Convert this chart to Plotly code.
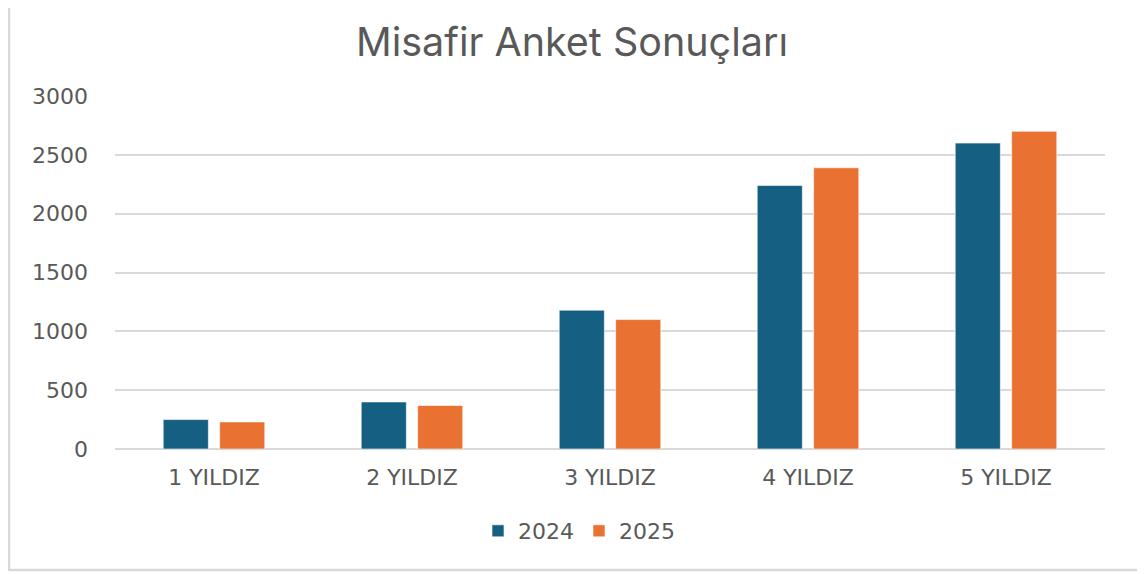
import plotly.graph_objects as go

categories = ["1 YILDIZ", "2 YILDIZ", "3 YILDIZ", "4 YILDIZ", "5 YILDIZ"]
series_2024 = [250, 400, 1180, 2240, 2600]
series_2025 = [230, 370, 1100, 2390, 2700]
y_ticks = [0, 500, 1000, 1500, 2000, 2500, 3000]

TEXT = "#595959"
GRID = "#D9D9D9"

# the page places the figure 8px from the top-left corner
OFF = 8
W, H = 1145 - OFF, 574 - OFF
L, R, T, B = 115 - OFF, 40, 96 - OFF, 125
pw = W - L - R
ph = H - T - B

def px_x(x):  # reference screen x -> paper coord
    return (x - OFF - L) / pw

def px_y(y):  # reference screen y -> paper coord
    return (H - B - (y - OFF)) / ph

fig = go.Figure()
fig.add_trace(go.Bar(name="2024", x=categories, y=series_2024,
                     marker=dict(color="#156082", line=dict(color="#FFFFFF", width=0.6))))
fig.add_trace(go.Bar(name="2025", x=categories, y=series_2025,
                     marker=dict(color="#E97132", line=dict(color="#FFFFFF", width=0.6))))

fig.update_layout(
    width=W, height=H,
    margin=dict(l=L, r=R, t=T, b=B),
    paper_bgcolor="white", plot_bgcolor="white",
    barmode="group", bargap=0.43, bargroupgap=0.2,
    title=dict(text="Misafir Anket Sonuçları", x=(572 - OFF) / W, xanchor="center",
               y=1 - (42 - OFF) / H, yanchor="middle",
               font=dict(family="Inter, Liberation Sans, Arial", size=39.5, color=TEXT)),
    font=dict(family="DejaVu Sans, Liberation Sans, Arial", size=22, color=TEXT),
    legend=dict(orientation="h", x=px_x(579), xanchor="center",
                y=px_y(531), yanchor="middle",
                font=dict(size=22, color=TEXT), itemwidth=30, traceorder="normal"),
    showlegend=True,
)
fig.update_xaxes(showgrid=False, showline=False, ticks="", tickfont=dict(size=22, color=TEXT),
                 ticklabelstandoff=13)
fig.update_yaxes(range=[0, 3000], tickvals=y_ticks, showgrid=True, gridcolor=GRID, gridwidth=1.5,
                 zeroline=True, zerolinecolor=GRID, zerolinewidth=1.5, showline=False,
                 ticks="", tickfont=dict(size=22, color=TEXT), ticklabelstandoff=26)

# outer chart frame
fig.add_shape(type="rect", xref="paper", yref="paper",
              x0=px_x(OFF + 1), x1=px_x(1139),
              y0=px_y(570), y1=px_y(-5),
              line=dict(color="#D9D9D9", width=2.5), fillcolor="rgba(0,0,0,0)", layer="below")

fig.write_html("out.html")
